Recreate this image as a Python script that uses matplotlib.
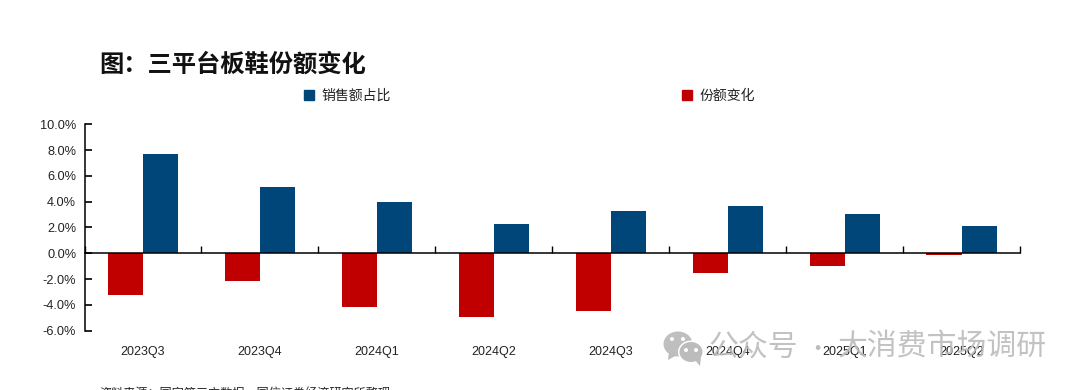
import numpy as np
import matplotlib
matplotlib.use('Agg')
import matplotlib.pyplot as plt
from matplotlib.patches import Ellipse, Polygon, Patch

plt.rcParams['font.family'] = ['Liberation Sans', 'Noto Sans CJK SC', 'DejaVu Sans']

quarters = ['2023Q3', '2023Q4', '2024Q1', '2024Q2', '2024Q3', '2024Q4', '2025Q1', '2025Q2']
share = [7.7, 5.15, 4.0, 2.3, 3.3, 3.7, 3.05, 2.1]
change = [-3.2, -2.15, -4.15, -4.9, -4.45, -1.5, -1.0, -0.12]
yticks = [-6, -4, -2, 0, 2, 4, 6, 8, 10]

W, H = 1076, 390
BLUE = '#004679'
RED = '#C00000'
GREY = '#BCBCBC'

fig = plt.figure(figsize=(W / 100, H / 100), dpi=100, facecolor='white')
ax = fig.add_axes([84.5 / W, 1 - 330.7 / H, 935.5 / W, 206.5 / H])

x = np.arange(len(quarters))
width = 0.3
ax.bar(x - width / 2, change, width, color=RED, label='份额变化')
ax.bar(x + width / 2, share, width, color=BLUE, label='销售额占比')

ax.set_xlim(-0.5, len(quarters) - 0.5)
ax.set_ylim(-6, 10)
ax.set_yticks(yticks)
ax.set_yticklabels([f'{v:.1f}%' for v in yticks], fontsize=9.2, color='#222222')
ax.tick_params(axis='y', direction='in', length=5, width=1.2, pad=6)

ax.spines['top'].set_visible(False)
ax.spines['right'].set_visible(False)
ax.spines['bottom'].set_position(('data', 0))
ax.spines['left'].set_linewidth(1.1)
ax.spines['bottom'].set_linewidth(1.1)

# tick marks between categories, labels on minor ticks far below the zero line
ax.set_xticks(np.arange(len(quarters) + 1) - 0.5)
ax.set_xticklabels([])
ax.tick_params(axis='x', which='major', direction='in', length=5, width=1)
ax.set_xticks(x, minor=True)
ax.set_xticklabels(quarters, minor=True, fontsize=9, color='#222222')
ax.tick_params(axis='x', which='minor', length=0, pad=66.5)

handles = [Patch(color=BLUE), Patch(color=RED)]
fig.legend(handles, ['销售额占比', '份额变化'], ncol=2, frameon=False,
           loc='center', bbox_to_anchor=(529.5 / W, 1 - 96 / H), fontsize=10,
           handlelength=0.75, handleheight=0.75, handletextpad=0.55,
           columnspacing=20.9, labelcolor='#222222')

# overlay in pixel coordinates for title, source line and watermark
ov = fig.add_axes([0, 0, 1, 1], facecolor='none')
ov.set_xlim(0, W)
ov.set_ylim(H, 0)
ov.axis('off')

ov.text(99, 65, '图：三平台板鞋份额变化', fontsize=17.5, fontweight='bold',
        family='Noto Sans CJK SC', color='#111111', va='center', ha='left')
ov.text(99, 394, '资料来源：国家第三方数据，国信证券经济研究所整理', fontsize=8.7,
        family='Noto Sans CJK SC', color='#222222', va='center', ha='left', clip_on=False)

ov.add_patch(Ellipse((678, 344), 29, 25, color=GREY, alpha=0.95, lw=0))
ov.add_patch(Polygon([(669, 352), (668, 360), (677, 355)], color=GREY, lw=0))
ov.add_patch(Ellipse((691, 352), 26, 23, color='white', lw=0))
ov.add_patch(Ellipse((691, 352), 23, 20, color=GREY, lw=0))
ov.add_patch(Polygon([(695, 360), (700, 366), (701, 357)], color=GREY, lw=0))
for ex, ey, col in [(672, 339, 'white'), (683, 339, 'white'), (686, 350, 'white'), (696, 350, 'white')]:
    ov.add_patch(Ellipse((ex, ey), 4, 4, color=col, lw=0))
ov.text(708, 347, '公众号', fontsize=21.5, family='Noto Sans CJK SC', color=GREY,
        alpha=0.9, va='center', ha='left', fontweight='light')
ov.text(817, 349, '·', fontsize=16, family='Noto Sans CJK SC', color=GREY, va='center', ha='center')
ov.text(838, 347, '大消费市场调研', fontsize=21.5, family='Noto Sans CJK SC', color=GREY,
        alpha=0.9, va='center', ha='left', fontweight='light')

fig.savefig('out.png', dpi=100)
